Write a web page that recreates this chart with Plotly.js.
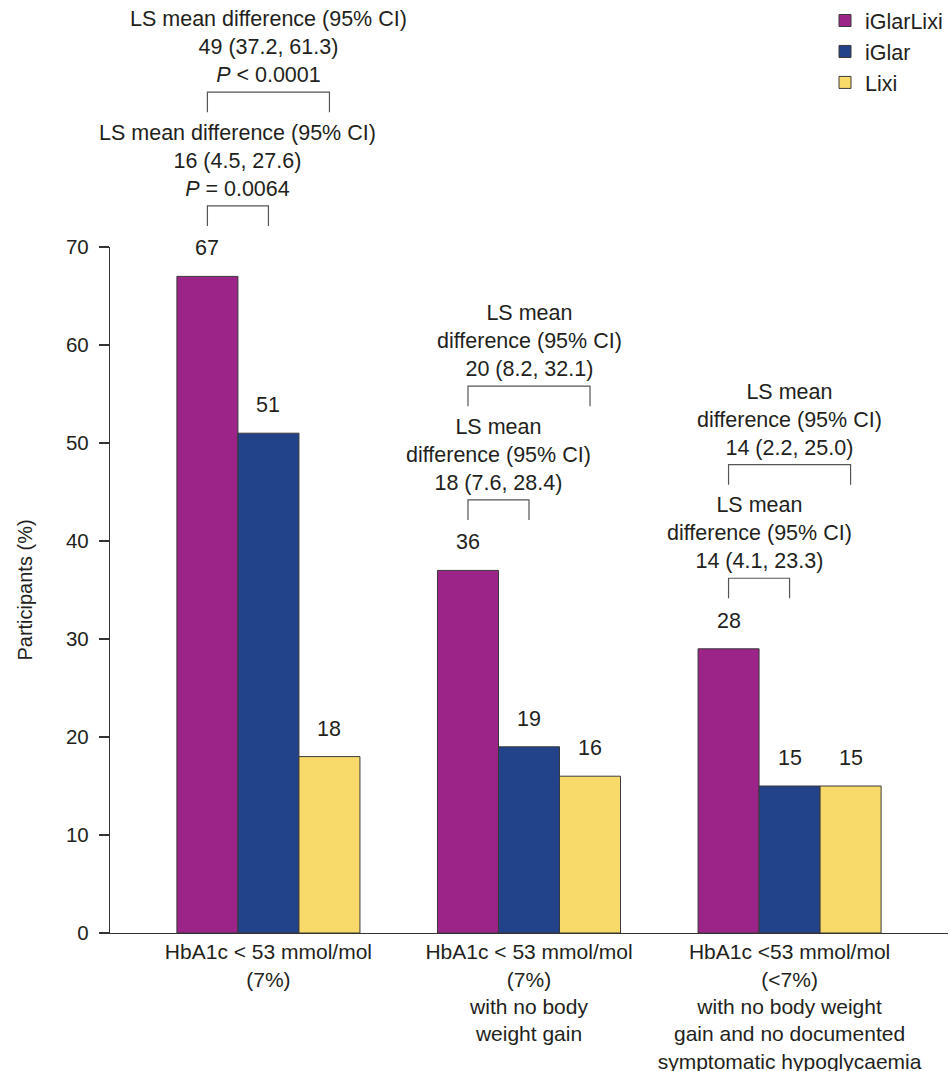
<!DOCTYPE html>
<html>
<head>
<meta charset="utf-8">
<script src="https://cdn.plot.ly/plotly-3.0.1.min.js"></script>
<style>
html, body { margin: 0; padding: 0; background: #fff; }
#chart { width: 949px; height: 1071px; }
</style>
</head>
<body>
<div id="chart"></div>
<script>
// ---- data ----
const categories = [
  'HbA1c &lt; 53 mmol/mol<br>(7%)',
  'HbA1c &lt; 53 mmol/mol<br>(7%)<br>with no body<br>weight gain',
  'HbA1c &lt;53 mmol/mol<br>(&lt;7%)<br>with no body weight<br>gain and no documented<br>symptomatic hypoglycaemia'
];
const seriesNames = ['iGlarLixi', 'iGlar', 'Lixi'];
const iGlarLixiValues = [67, 37, 29];
const iGlarValues = [51, 19, 15];
const lixiValues = [18, 16, 15];
const iGlarLixiLabels = ['67', '36', '28'];
const iGlarLabels = ['51', '19', '15'];
const lixiLabels = ['18', '16', '15'];
// comparisons: iGlarLixi vs iGlar (inner) and iGlarLixi vs Lixi (outer)
const innerComparisonText = [
  'LS mean difference (95% CI)<br>16 (4.5, 27.6)<br><i>P</i> = 0.0064',
  'LS mean<br>difference (95% CI)<br>18 (7.6, 28.4)',
  'LS mean<br>difference (95% CI)<br>14 (4.1, 23.3)'
];
const outerComparisonText = [
  'LS mean difference (95% CI)<br>49 (37.2, 61.3)<br><i>P</i> &lt; 0.0001',
  'LS mean<br>difference (95% CI)<br>20 (8.2, 32.1)',
  'LS mean<br>difference (95% CI)<br>14 (2.2, 25.0)'
];
const yTicks = [0, 10, 20, 30, 40, 50, 60, 70];

// ---- styling ----
const colors = ['#9C2489', '#22428A', '#F8DA6B'];
const textColor = '#231F20';
const fontFamily = '"Liberation Sans", Arial, Helvetica, sans-serif';
const FS = 21.5;
const bargap = 0.2975;
const barW = (1 - bargap) / 3;
const offsets = [-barW, 0, barW];
const yMax = 70;
const xs = categories.map((c, i) => i);

const values = [iGlarLixiValues, iGlarValues, lixiValues];
const labels = [iGlarLixiLabels, iGlarLabels, lixiLabels];

const traces = seriesNames.map((name, k) => ({
  type: 'bar',
  name: name,
  x: xs,
  y: values[k],
  marker: { color: colors[k], line: { color: '#3a3a3a', width: 1 } },
  hoverinfo: 'none'
}));

const annotations = [];
const shapes = [];

// bar value labels
values.forEach((vals, k) => {
  vals.forEach((v, i) => {
    annotations.push({
      x: i + offsets[k], y: v, xref: 'x', yref: 'y',
      text: labels[k][i], showarrow: false,
      yanchor: 'middle', yshift: 28,
      font: { size: FS, color: textColor, family: fontFamily }
    });
  });
});

// brackets
function bracket(i, kEnd, bottom, top, text) {
  const x1 = i + offsets[0], x2 = i + offsets[kEnd];
  const yb = bottom / yMax, yt = top / yMax;
  shapes.push({
    type: 'path', xref: 'x', yref: 'paper',
    path: `M ${x1},${yb} L ${x1},${yt} L ${x2},${yt} L ${x2},${yb}`,
    line: { color: '#555', width: 1.2 }
  });
  annotations.push({
    x: (x1 + x2) / 2, y: yt, xref: 'x', yref: 'paper',
    text: text, showarrow: false, yanchor: 'bottom', yshift: 3,
    align: 'center',
    font: { size: FS, color: textColor, family: fontFamily }
  });
}
xs.forEach(i => {
  const m = Math.max(iGlarLixiValues[i], iGlarValues[i], lixiValues[i]);
  bracket(i, 1, m + 5.15, m + 7.2, innerComparisonText[i]);
  bracket(i, 2, m + 16.75, m + 18.8, outerComparisonText[i]);
});

const layout = {
  width: 949, height: 1071,
  margin: { l: 110, r: 1, t: 247, b: 138, autoexpand: false },
  paper_bgcolor: '#fff', plot_bgcolor: '#fff',
  barmode: 'group', bargap: bargap, bargroupgap: 0,
  font: { family: fontFamily, color: textColor, size: FS },
  showlegend: true,
  legend: {
    x: 1, y: 1.36, xanchor: 'right', yanchor: 'top',
    font: { size: 21.5, color: textColor, family: fontFamily },
    bgcolor: 'rgba(0,0,0,0)', traceorder: 'normal'
  },
  xaxis: {
    range: [-0.608, 2.608], tickvals: xs, ticktext: categories,
    showline: true, linecolor: '#333', linewidth: 1.2,
    ticks: '', showgrid: false, zeroline: false,
    tickfont: { size: 21, color: textColor, family: fontFamily },
    fixedrange: true
  },
  yaxis: {
    range: [0, yMax], tickvals: yTicks,
    showline: true, linecolor: '#333', linewidth: 1.2,
    ticks: 'outside', ticklen: 10, tickcolor: '#333', tickwidth: 1.2,
    ticklabelstandoff: 6,
    showgrid: false, zeroline: false,
    tickfont: { size: 20.5, color: textColor, family: fontFamily },
    title: { text: 'Participants (%)', font: { size: 20, color: textColor, family: fontFamily }, standoff: 27 },
    fixedrange: true
  },
  shapes: shapes,
  annotations: annotations
};

Plotly.newPlot('chart', traces, layout, { displayModeBar: false, staticPlot: true });
</script>
</body>
</html>
